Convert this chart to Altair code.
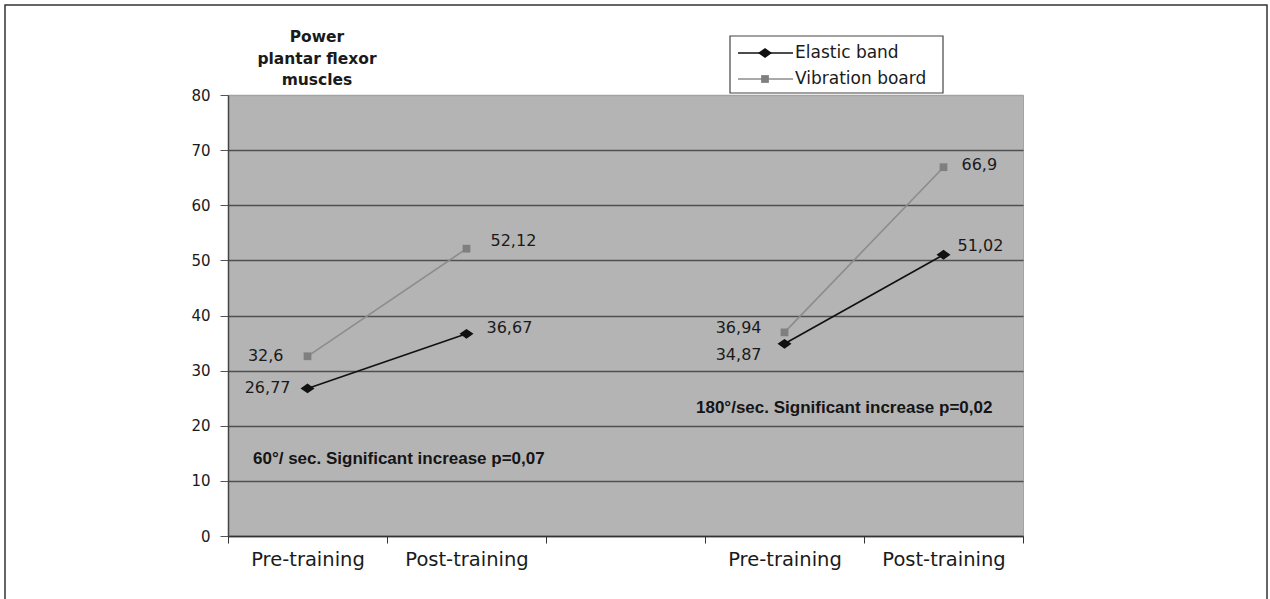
import altair as alt
import pandas as pd

# Category slots along x; the middle slot is an empty spacer between the two speeds
slots = ["60|Pre-training", "60|Post-training", "gap|", "180|Pre-training", "180|Post-training"]
point_slots = ["60|Pre-training", "60|Post-training", "180|Pre-training", "180|Post-training"]
speeds = ["60", "60", "180", "180"]
series_names = ["Elastic band", "Vibration board"]
elastic = [26.77, 36.67, 34.87, 51.02]
vibration = [32.6, 52.12, 36.94, 66.9]
y_ticks = [0, 10, 20, 30, 40, 50, 60, 70, 80]
title_lines = ["Power", "plantar flexor", "muscles"]
note_60 = "60°/ sec. Significant increase p=0,07"
note_180 = "180°/sec. Significant increase p=0,02"

rows = []
for name, vals in zip(series_names, [elastic, vibration]):
    for slot, sp, v in zip(point_slots, speeds, vals):
        rows.append({"slot": slot, "speed": sp, "series": name, "value": v,
                     "label": f"{v:g}".replace(".", ",")})
df = pd.DataFrame(rows)

colors = {"Elastic band": "#111111", "Vibration board": "#8c8c8c"}
marker_fill = {"Elastic band": "#111111", "Vibration board": "#7f7f7f"}
diamond = "M-1,0L0,-0.7L1,0L0,0.7Z"
FONT = "DejaVu Sans"

x_enc = alt.X("slot:N", bandPosition=0.5,
              scale=alt.Scale(type="band", domain=slots, paddingInner=0, paddingOuter=0),
              axis=alt.Axis(title=None, labelExpr="split(datum.label, '|')[1]",
                            tickBand="extent", tickSize=7, tickColor="#333",
                            domainColor="#333", domainWidth=1.5, labelAngle=0,
                            labelFont=FONT, labelFontSize=19.5, labelColor="#1a1a1a",
                            labelPadding=7))
y_enc = alt.Y("value:Q",
              scale=alt.Scale(domain=[0, 80], nice=False, zero=True),
              axis=alt.Axis(title=None, values=y_ticks, grid=True,
                            gridColor={"condition": {"test": "datum.value == 80", "value": "#a3a3a3"},
                                       "value": "#4f4f4f"},
                            gridWidth=1.6, tickSize=8, tickColor="#555",
                            domainColor="#444", domainWidth=1.5,
                            labelFont=FONT, labelFontSize=15, labelColor="#1a1a1a",
                            labelPadding=10))

base = alt.Chart(df)

lines = base.mark_line(strokeWidth=1.6).encode(
    x=x_enc, y=y_enc,
    color=alt.Color("series:N", scale=alt.Scale(domain=series_names,
                                                range=[colors[s] for s in series_names]),
                    legend=None),
    detail="speed:N",
)

pts_elastic = base.transform_filter(alt.datum.series == "Elastic band").mark_point(
    shape=diamond, size=196, filled=True, fill=marker_fill["Elastic band"], opacity=1
).encode(x=alt.X("slot:N", bandPosition=0.5), y="value:Q")

pts_vibration = base.transform_filter(alt.datum.series == "Vibration board").mark_point(
    shape="square", size=60, filled=True, fill=marker_fill["Vibration board"], opacity=1
).encode(x=alt.X("slot:N", bandPosition=0.5), y="value:Q")

# value labels: (slot, series) -> align, dx, dy
placement = {
    ("60|Pre-training", "Vibration board"): ("right", -24, 0),
    ("60|Pre-training", "Elastic band"): ("right", -17, 0),
    ("60|Post-training", "Vibration board"): ("left", 24, -8),
    ("60|Post-training", "Elastic band"): ("left", 20, -6),
    ("180|Pre-training", "Vibration board"): ("right", -23, -4),
    ("180|Pre-training", "Elastic band"): ("right", -23, 11),
    ("180|Post-training", "Vibration board"): ("left", 18, -2),
    ("180|Post-training", "Elastic band"): ("left", 14, -9),
}
label_layers = []
for (slot, ser), (al, dx, dy) in placement.items():
    label_layers.append(
        base.transform_filter((alt.datum.slot == slot) & (alt.datum.series == ser))
        .mark_text(align=al, baseline="middle", dx=dx, dy=dy, font=FONT,
                   fontSize=16, color="#1a1a1a")
        .encode(x=alt.X("slot:N", bandPosition=0.5), y="value:Q", text="label:N")
    )

one = alt.Chart(pd.DataFrame({"k": [0]}))

notes = [
    one.mark_text(text=note_60, align="left", baseline="middle", font="Liberation Sans",
                  fontWeight="bold", fontSize=17, color="#151515")
    .encode(x=alt.value(25), y=alt.value(364)),
    one.mark_text(text=note_180, align="left", baseline="middle", font="Liberation Sans",
                  fontWeight="bold", fontSize=17, color="#151515")
    .encode(x=alt.value(468), y=alt.value(313)),
]

title = one.mark_text(text=title_lines, align="center", baseline="middle", font=FONT,
                      fontWeight="bold", fontSize=15.5, lineHeight=21.5, color="#1a1a1a"
                      ).encode(x=alt.value(89), y=alt.value(-58))

# legend box with line + marker samples
legend = [
    one.mark_rect(fill="white", stroke="#444", strokeWidth=1.2).encode(
        x=alt.value(502), x2=alt.value(715), y=alt.value(-59), y2=alt.value(-2)),
    one.mark_rule(color=colors["Elastic band"], strokeWidth=1.4).encode(
        x=alt.value(510), x2=alt.value(565), y=alt.value(-42)),
    one.mark_rule(color=colors["Vibration board"], strokeWidth=1.4).encode(
        x=alt.value(510), x2=alt.value(565), y=alt.value(-16)),
    one.mark_point(shape=diamond, size=196, filled=True, fill=marker_fill["Elastic band"],
                   opacity=1).encode(x=alt.value(537), y=alt.value(-42)),
    one.mark_point(shape="square", size=60, filled=True, fill=marker_fill["Vibration board"],
                   opacity=1).encode(x=alt.value(537), y=alt.value(-16)),
    one.mark_text(text=series_names[0], align="left", baseline="middle", font=FONT,
                  fontSize=17, color="#1a1a1a").encode(x=alt.value(567), y=alt.value(-42)),
    one.mark_text(text=series_names[1], align="left", baseline="middle", font=FONT,
                  fontSize=17, color="#1a1a1a").encode(x=alt.value(567), y=alt.value(-16)),
]

frame = one.mark_rect(fill=None, fillOpacity=0, stroke="#333", strokeWidth=1.5).encode(
    x=alt.value(-223), x2=alt.value(1039), y=alt.value(-90), y2=alt.value(530))

chart = alt.layer(
    lines, pts_vibration, pts_elastic, *label_layers, *notes, title, *legend, frame
).properties(
    width=795, height=441,
    autosize=alt.AutoSizeParams(type="none"),
    padding={"left": 228, "top": 95, "right": 247, "bottom": 63},
    background="white",
).configure_view(
    fill="#b4b4b4", stroke="#a3a3a3", strokeWidth=1
)

chart.save("out.html", embed_options={"renderer": "svg", "actions": False})
